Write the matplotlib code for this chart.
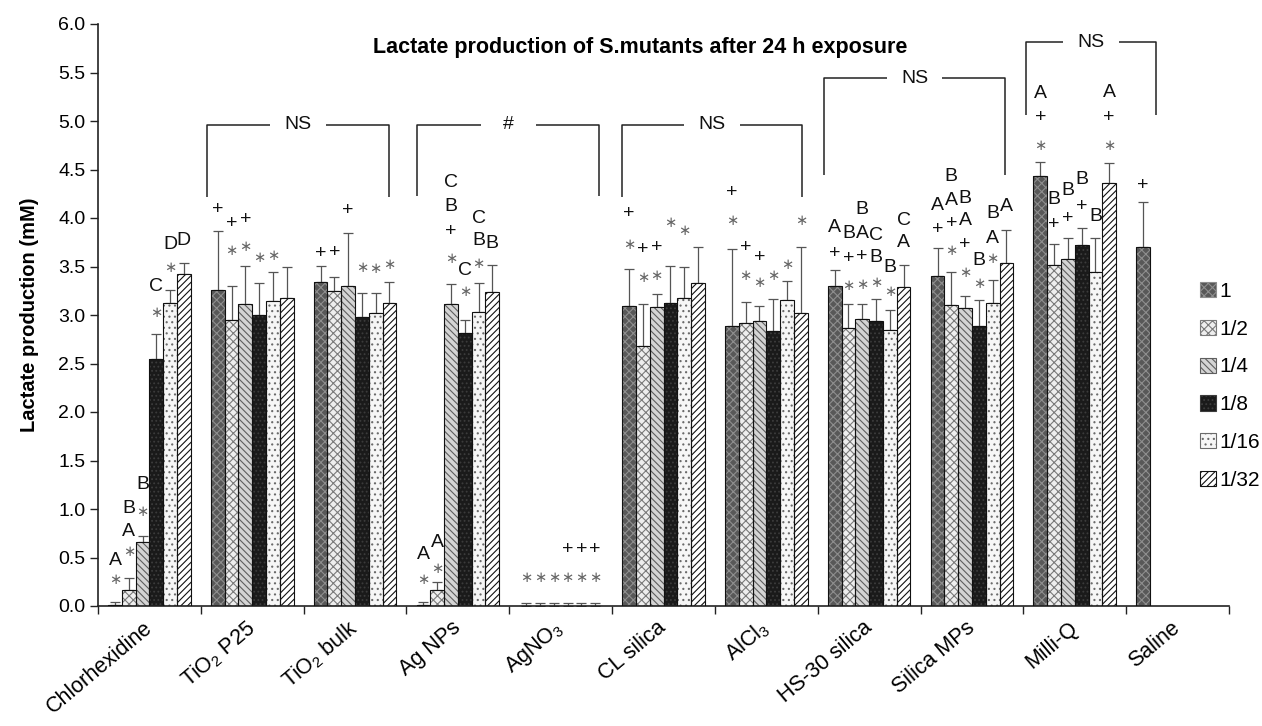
import numpy as np
import matplotlib
matplotlib.use("Agg")
import matplotlib.pyplot as plt
from matplotlib.patches import Patch
from matplotlib import font_manager
import matplotlib.transforms as mtransforms

# ---------------- data ----------------
categories = ['Chlorhexidine', 'TiO$_2$ P25', 'TiO$_2$ bulk', 'Ag NPs', 'AgNO$_3$',
              'CL silica', 'AlCl$_3$', 'HS-30 silica', 'Silica MPs', 'Milli-Q', 'Saline']
dilutions = ['1', '1/2', '1/4', '1/8', '1/16', '1/32']
nan = np.nan

vals_1    = [0.01, 3.26, 3.34, 0.01, 0.005, 3.09, 2.89, 3.30, 3.40, 4.43, 3.70]
vals_1_2  = [0.16, 2.95, 3.25, 0.17, 0.005, 2.68, 2.92, 2.87, 3.10, 3.52, nan]
vals_1_4  = [0.66, 3.11, 3.30, 3.11, 0.005, 3.08, 2.94, 2.96, 3.07, 3.58, nan]
vals_1_8  = [2.55, 3.00, 2.98, 2.81, 0.005, 3.12, 2.83, 2.94, 2.89, 3.72, nan]
vals_1_16 = [3.12, 3.14, 3.02, 3.03, 0.005, 3.18, 3.15, 2.85, 3.12, 3.44, nan]
vals_1_32 = [3.42, 3.18, 3.12, 3.24, 0.005, 3.33, 3.02, 3.29, 3.54, 4.36, nan]

err_1    = [0.035, 0.61, 0.17, 0.035, 0.025, 0.38, 0.79, 0.16, 0.29, 0.15, 0.47]
err_1_2  = [0.13, 0.35, 0.14, 0.08, 0.025, 0.43, 0.21, 0.24, 0.34, 0.21, nan]
err_1_4  = [0.06, 0.40, 0.55, 0.21, 0.025, 0.14, 0.15, 0.15, 0.13, 0.21, nan]
err_1_8  = [0.25, 0.33, 0.25, 0.14, 0.025, 0.39, 0.33, 0.23, 0.26, 0.18, nan]
err_1_16 = [0.14, 0.30, 0.21, 0.30, 0.025, 0.32, 0.20, 0.20, 0.24, 0.35, nan]
err_1_32 = [0.12, 0.31, 0.22, 0.28, 0.025, 0.37, 0.68, 0.23, 0.34, 0.21, nan]

# significance marks: (category, dilution index, mark, height in mM)
marks = [
    (0, 0, '*', 0.27), (0, 0, 'A', 0.47),
    (0, 1, '*', 0.56), (0, 1, 'A', 0.77), (0, 1, 'B', 1.01),
    (0, 2, '*', 0.97), (0, 2, 'B', 1.25),
    (0, 3, '*', 3.03), (0, 3, 'C', 3.29),
    (0, 4, '*', 3.49), (0, 4, 'D', 3.73),
    (0, 5, 'D', 3.77),
    (1, 0, '+', 4.09),
    (1, 1, '*', 3.67), (1, 1, '+', 3.94),
    (1, 2, '*', 3.71), (1, 2, '+', 3.98),
    (1, 3, '*', 3.59), (1, 4, '*', 3.61),
    (2, 0, '+', 3.63), (2, 1, '+', 3.64), (2, 2, '+', 4.08),
    (2, 3, '*', 3.49), (2, 4, '*', 3.48), (2, 5, '*', 3.52),
    (3, 0, '*', 0.27), (3, 0, 'A', 0.53),
    (3, 1, '*', 0.39), (3, 1, 'A', 0.65),
    (3, 2, '*', 3.58), (3, 2, '+', 3.86), (3, 2, 'B', 4.12), (3, 2, 'C', 4.37),
    (3, 3, '*', 3.24), (3, 3, 'C', 3.46),
    (3, 4, '*', 3.53), (3, 4, 'B', 3.77), (3, 4, 'C', 3.99),
    (3, 5, 'B', 3.74),
    (4, 0, '*', 0.29), (4, 1, '*', 0.29), (4, 2, '*', 0.29),
    (4, 3, '*', 0.29), (4, 4, '*', 0.29), (4, 5, '*', 0.29),
    (4, 3, '+', 0.58), (4, 4, '+', 0.58), (4, 5, '+', 0.58),
    (5, 0, '*', 3.73), (5, 0, '+', 4.05),
    (5, 1, '*', 3.39), (5, 1, '+', 3.68),
    (5, 2, '*', 3.41), (5, 2, '+', 3.70),
    (5, 3, '*', 3.95), (5, 4, '*', 3.87),
    (6, 0, '*', 3.97), (6, 0, '+', 4.26),
    (6, 1, '*', 3.41), (6, 1, '+', 3.70),
    (6, 2, '*', 3.33), (6, 2, '+', 3.59),
    (6, 3, '*', 3.41), (6, 4, '*', 3.52), (6, 5, '*', 3.97),
    (7, 0, '+', 3.63), (7, 0, 'A', 3.90),
    (7, 1, '*', 3.30), (7, 1, '+', 3.58), (7, 1, 'B', 3.84),
    (7, 2, '*', 3.31), (7, 2, '+', 3.60), (7, 2, 'A', 3.84), (7, 2, 'B', 4.09),
    (7, 3, '*', 3.34), (7, 3, 'B', 3.59), (7, 3, 'C', 3.82),
    (7, 4, '*', 3.24), (7, 4, 'B', 3.49),
    (7, 5, 'A', 3.75), (7, 5, 'C', 3.97),
    (8, 0, '+', 3.88), (8, 0, 'A', 4.13),
    (8, 1, '*', 3.66), (8, 1, '+', 3.94), (8, 1, 'A', 4.18), (8, 1, 'B', 4.43),
    (8, 2, '*', 3.44), (8, 2, '+', 3.73), (8, 2, 'A', 3.97), (8, 2, 'B', 4.20),
    (8, 3, '*', 3.32), (8, 3, 'B', 3.56),
    (8, 4, '*', 3.58), (8, 4, 'A', 3.79), (8, 4, 'B', 4.05),
    (8, 5, 'A', 4.12),
    (9, 0, '*', 4.75), (9, 0, '+', 5.04), (9, 0, 'A', 5.28),
    (9, 1, '+', 3.93), (9, 1, 'B', 4.19),
    (9, 2, '+', 3.99), (9, 2, 'B', 4.28),
    (9, 3, '+', 4.12), (9, 3, 'B', 4.40),
    (9, 4, 'B', 4.02),
    (9, 5, '*', 4.75), (9, 5, '+', 5.04), (9, 5, 'A', 5.29),
    (10, 0, '+', 4.34),
]

# comparison brackets
bracket_left   = [0.563, 2.606, 4.597, 6.562, 8.527]
bracket_right  = [2.331, 4.377, 6.348, 8.323, 9.792]
bracket_top    = [4.96, 4.96, 4.96, 5.44, 5.81]
bracket_bottom = [4.22, 4.23, 4.22, 4.44, 5.06]
bracket_text   = ['NS', '#', 'NS', 'NS', 'NS']

title = 'Lactate production of S.mutants after 24 h exposure'
ylabel = 'Lactate production (mM)'
yticks = [0.0, 0.5, 1.0, 1.5, 2.0, 2.5, 3.0, 3.5, 4.0, 4.5, 5.0, 5.5, 6.0]

# ---------------- style ----------------
names = {f.name for f in font_manager.fontManager.ttflist}
base_font = 'Liberation Sans' if 'Liberation Sans' in names else 'DejaVu Sans'
title_font = 'Liberation Sans Narrow' if 'Liberation Sans Narrow' in names else base_font
plt.rcParams['font.family'] = [base_font, 'DejaVu Sans']
plt.rcParams['mathtext.default'] = 'regular'
plt.rcParams['hatch.linewidth'] = 0.8

faces   = ['#585858', '#eeeeee', '#d4d4d4', '#1a1a1a', '#f6f6f6', '#ffffff']
hcolors = ['#8e8e8e', '#7a7a7a', '#5e5e5e', '#3c3c3c', '#6a6a6a', '#111111']
hatches = ['xxxx', 'xxxx', '\\\\\\\\\\', '....', '...', '/////']

W, H = 1262, 726
fig = plt.figure(figsize=(W / 100, H / 100), dpi=100)
ax = fig.add_axes([98 / W, 1 - 606 / H, (1229 - 98) / W, (606 - 24) / H])

series_vals = [vals_1, vals_1_2, vals_1_4, vals_1_8, vals_1_16, vals_1_32]
series_errs = [err_1, err_1_2, err_1_4, err_1_8, err_1_16, err_1_32]
x = np.arange(len(categories))
width = 0.134

for s in range(len(dilutions)):
    v = np.asarray(series_vals[s], float)
    e = np.asarray(series_errs[s], float)
    pos = x + (s - 2.5) * width
    ok = ~np.isnan(v)
    ax.errorbar(pos[ok], v[ok], yerr=[np.zeros(ok.sum()), e[ok]], fmt='none',
                ecolor='#555555', elinewidth=0.9, capsize=3.5, capthick=0.9, zorder=1)
    ax.bar(pos[ok], v[ok], width, color=faces[s], edgecolor=hcolors[s],
           hatch=hatches[s], linewidth=0, zorder=2)
    ax.bar(pos[ok], v[ok], width, fill=False, edgecolor='#111111',
           linewidth=0.8, zorder=3)

for (c, s, m, yv) in marks:
    xp = x[c] + (s - 2.5) * width
    if m == '*':
        ax.text(xp, yv, '\u2217', ha='center', va='center', fontsize=10.5,
                color='#666666', family='DejaVu Sans', zorder=5)
    else:
        ax.text(xp, yv, m, ha='center', va='center', fontsize=14,
                color='#111111', zorder=5)

gap = 0.27
for xl, xr, yt, yb, t in zip(bracket_left, bracket_right, bracket_top,
                             bracket_bottom, bracket_text):
    xc = (xl + xr) / 2
    kw = dict(color='#222222', lw=1.1, solid_capstyle='butt')
    ax.plot([xl, xl, xc - gap], [yb, yt, yt], **kw)
    ax.plot([xc + gap, xr, xr], [yt, yt, yb], **kw)
    ax.text(xc, yt, t, ha='center', va='center', fontsize=14, color='#111111')

ax.set_xlim(-0.5, len(categories) - 0.5)
ax.set_ylim(0, 6.0)
ax.set_yticks(yticks)
ax.set_yticklabels([f'{t:.1f}' for t in yticks], fontsize=14)
ax.set_xticks(x)
ax.set_xticklabels(categories, rotation=40, ha='right', va='center',
                   rotation_mode='anchor', fontsize=15.5)
shift = mtransforms.ScaledTranslation(12 / 100, 0, fig.dpi_scale_trans)
for lab in ax.get_xticklabels():
    lab.set_transform(lab.get_transform() + shift)
ax.set_xticks(np.arange(-0.5, len(categories), 1.0), minor=True)
ax.tick_params(axis='x', which='major', length=0, pad=14)
ax.tick_params(axis='x', which='minor', length=6, width=1.0, direction='out', color='#222222')
ax.tick_params(axis='y', length=6, width=1.0, direction='out', color='#222222', pad=3)
for sp in ['top', 'right']:
    ax.spines[sp].set_visible(False)
for sp in ['left', 'bottom']:
    ax.spines[sp].set_linewidth(1.2)
    ax.spines[sp].set_color('#222222')

ax.set_ylabel(ylabel, fontsize=14.5, fontweight='bold', labelpad=14)

fig.text(640 / W, 1 - 48 / H, title, ha='center', va='center', fontsize=15.5,
         fontweight='bold', family=[title_font, 'DejaVu Sans'])

handles = [Patch(facecolor=faces[s], edgecolor=hcolors[s], hatch=hatches[s], linewidth=0.8)
           for s in range(len(dilutions))]
fig.legend(handles, dilutions, loc='upper left', bbox_to_anchor=(1200 / W, 1 - 282 / H),
           frameon=False, fontsize=15, handlelength=0.75, handleheight=0.75,
           handletextpad=0.2, labelspacing=0.9, borderpad=0, borderaxespad=0)

fig.savefig('out.png', dpi=100)
